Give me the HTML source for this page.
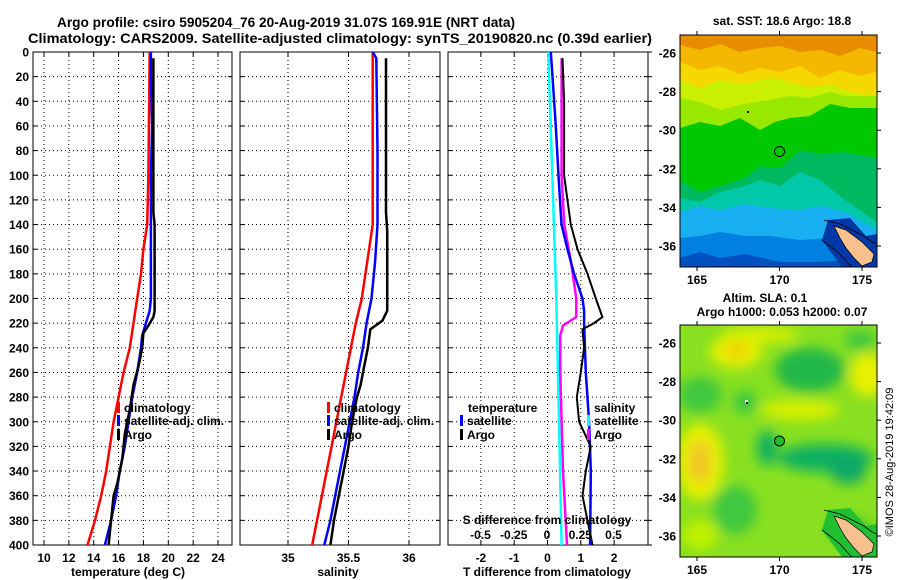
<!DOCTYPE html>
<html><head><meta charset="utf-8">
<style>
html,body{margin:0;padding:0;background:#fff;}
svg{display:block;font-family:"Liberation Sans",Arial,sans-serif;font-weight:bold;}
</style></head>
<body>
<svg id="chart" width="900" height="580" viewBox="0 0 900 580" xmlns="http://www.w3.org/2000/svg">
<defs>
<filter id="blur4" x="-50%" y="-50%" width="200%" height="200%"><feGaussianBlur stdDeviation="6"/></filter>
<clipPath id="clipMap1"><rect x="680" y="35" width="197" height="232"/></clipPath>
<clipPath id="clipMap2"><rect x="680" y="325" width="197" height="232"/></clipPath>
</defs>
<text x="57" y="27" font-size="14" textLength="458" lengthAdjust="spacingAndGlyphs">Argo profile: csiro 5905204_76 20-Aug-2019 31.07S 169.91E (NRT data)</text>
<text x="28" y="43" font-size="14" textLength="624" lengthAdjust="spacingAndGlyphs">Climatology: CARS2009. Satellite-adjusted climatology: synTS_20190820.nc (0.39d earlier)</text>
<g id="plots"></g>
<g id="maps">
  <g clip-path="url(#clipMap1)">
    <rect x="680" y="35" width="197" height="232" fill="#e88c00"/>
    <polygon fill="#f5b800" points="680,45 700,50 720,44 740,52 760,48 780,46 800,52 820,50 840,56 860,48 877,52 877,267 680,267"/>
    <polygon fill="#f4d800" points="680,62 700,70 720,66 740,74 760,68 780,72 800,66 820,78 840,70 860,76 877,72 877,267 680,267"/>
    <polygon fill="#c8f000" points="680,80 700,88 720,80 745,84 770,78 790,82 810,88 830,84 850,92 877,96 877,267 680,267"/>
    <polygon fill="#98e800" points="680,98 700,102 720,110 745,104 770,100 790,96 810,98 830,92 845,96 877,96 877,267 680,267"/>
    <polygon fill="#00c800" points="680,128 700,122 720,126 740,118 760,130 775,122 790,118 810,116 830,104 850,108 877,108 877,267 680,267"/>
    <polygon fill="#00b860" points="680,180 700,192 720,186 745,178 760,166 780,168 800,150 820,154 845,152 877,158 877,267 680,267"/>
    <polygon fill="#00c8a8" points="680,198 700,202 720,192 745,186 760,180 780,186 800,172 820,180 845,200 877,222 877,267 680,267"/>
    <polygon fill="#18b0f0" points="680,212 700,206 720,210 745,204 770,208 800,210 820,206 845,212 877,230 877,267 680,267"/>
    <polygon fill="#0080e0" points="680,238 700,236 720,232 745,236 770,236 800,240 830,238 877,240 877,267 680,267"/>
    <polygon fill="#0050c0" points="680,258 700,252 720,258 745,254 780,262 820,262 877,258 877,267 680,267"/>
    <polygon fill="#0038a8" points="822,240 828,220 850,218 866,236 877,234 877,267 842,267"/>
    <polygon fill="#f8c08c" stroke="#000" stroke-width="0.7" points="834,226 846,230 854,236 862,242 868,248 874,254 872,262 862,266 854,258 846,248 840,238"/>
    <polyline fill="none" stroke="#000" stroke-width="0.8" points="822,240 830,246 840,254 848,263 852,267"/>
    <polyline fill="none" stroke="#000" stroke-width="0.8" points="824,220 840,224 852,230 864,236 872,242 877,244"/>
    <rect x="747" y="111" width="2" height="2" fill="#000"/>
    <circle cx="779.5" cy="151.5" r="5" fill="none" stroke="#000" stroke-width="1"/>
  </g>
  <rect x="680" y="35" width="197" height="232" fill="none" stroke="#000" stroke-width="1"/>
  <text x="782" y="25" font-size="12" text-anchor="middle">sat. SST: 18.6 Argo: 18.8</text>
  <g clip-path="url(#clipMap2)">
    <rect x="680" y="325" width="197" height="232" fill="#88e020"/>
    <g filter="url(#blur4)">
      <ellipse cx="736" cy="352" rx="26" ry="16" fill="#e8f000"/>
      <ellipse cx="737" cy="350" rx="10" ry="7" fill="#f0c800"/>
      <ellipse cx="700" cy="462" rx="24" ry="38" fill="#e8f000"/>
      <ellipse cx="700" cy="462" rx="12" ry="22" fill="#f0c820"/>
      <ellipse cx="868" cy="375" rx="18" ry="22" fill="#e8f000"/>
      <ellipse cx="800" cy="410" rx="40" ry="10" fill="#d8f000"/>
      <ellipse cx="760" cy="335" rx="40" ry="8" fill="#d8f000"/>
      <ellipse cx="810" cy="370" rx="35" ry="22" fill="#20b848"/>
      <ellipse cx="700" cy="395" rx="22" ry="18" fill="#40c840"/>
      <ellipse cx="745" cy="402" rx="12" ry="12" fill="#40c840"/>
      <ellipse cx="767" cy="448" rx="10" ry="18" fill="#10b060"/>
      <ellipse cx="825" cy="458" rx="48" ry="14" fill="#10b060"/>
      <ellipse cx="848" cy="470" rx="18" ry="14" fill="#10a868"/>
      <ellipse cx="850" cy="530" rx="20" ry="12" fill="#30c030"/>
      <ellipse cx="735" cy="510" rx="22" ry="24" fill="#40c840"/>
      <ellipse cx="700" cy="535" rx="18" ry="15" fill="#c0f000"/>
      <ellipse cx="860" cy="340" rx="16" ry="10" fill="#40c840"/>
    </g>
    <polygon fill="#20c030" points="822,530 828,510 850,508 866,526 877,524 877,557 842,557"/>
    <polygon fill="#f8c08c" stroke="#000" stroke-width="0.7" points="834,516 846,520 854,526 862,532 868,538 874,544 872,552 862,556 854,548 846,538 840,528"/>
    <polyline fill="none" stroke="#000" stroke-width="0.8" points="822,530 830,536 840,544 848,553 852,557"/>
    <polyline fill="none" stroke="#000" stroke-width="0.8" points="824,510 840,514 852,520 864,526 872,532 877,534"/>
    <rect x="745" y="400" width="3" height="3" fill="#fff"/>
    <rect x="746" y="402" width="2" height="2" fill="#000"/>
    <circle cx="779.5" cy="441" r="5" fill="#20c020" stroke="#000" stroke-width="1"/>
  </g>
  <rect x="680" y="325" width="197" height="232" fill="none" stroke="#000" stroke-width="1"/>
  <text x="765" y="302" font-size="12" text-anchor="middle">Altim. SLA: 0.1</text>
  <text x="782" y="316" font-size="12" text-anchor="middle">Argo h1000: 0.053 h2000: 0.07</text>
  <text transform="translate(893,462) rotate(-90)" font-size="11" font-weight="normal" text-anchor="middle">©IMOS 28-Aug-2019 19:42:09</text>
</g>
<g id="mapaxes"></g>
</svg>
<script>
const depthTicks = [0,20,40,60,80,100,120,140,160,180,200,220,240,260,280,300,320,340,360,380,400];
const tempTicks = [10,12,14,16,18,20,22,24];
const salTicks = [35,35.5,36];
const tdiffTicks = [-2,-1,0,1,2];
const sdiffTicks = [-0.5,-0.25,0,0.25,0.5];

const tClimDepth = [0,100,140,160,180,200,220,240,260,280,300,320,340,360,380,400];
const tClimVal   = [18.5,18.4,18.3,18.0,17.8,17.5,17.2,16.9,16.4,16.0,15.6,15.3,15.0,14.6,14.1,13.5];
const tSatDepth  = [0,20,60,100,180,200,210,220,230,240,260,280,300,320,340,360,380,400];
const tSatVal    = [18.6,18.6,18.7,18.6,18.6,18.6,18.5,18.2,17.9,17.8,17.5,17.1,16.8,16.5,16.1,15.8,15.4,14.9];
const tArgoDepth = [5,130,140,210,215,222,228,240,255,270,290,300,310,330,350,360,380,400];
const tArgoVal   = [18.8,18.8,18.9,18.9,18.8,18.4,18.0,17.9,17.6,17.2,16.9,16.7,16.5,16.3,15.9,15.6,15.4,15.2];

const sClimDepth = [0,140,160,180,200,220,240,260,280,300,320,340,360,380,400];
const sClimVal   = [35.7,35.7,35.67,35.64,35.61,35.56,35.52,35.48,35.44,35.4,35.36,35.32,35.28,35.24,35.2];
const sSatDepth  = [0,5,80,140,170,200,220,240,260,280,300,320,340,360,380,400];
const sSatVal    = [35.7,35.73,35.74,35.74,35.72,35.69,35.65,35.62,35.58,35.55,35.51,35.47,35.43,35.39,35.35,35.3];
const sArgoDepth = [5,130,145,210,218,225,240,255,270,280,300,320,340,360,380,400];
const sArgoVal   = [35.81,35.81,35.82,35.82,35.78,35.68,35.66,35.63,35.6,35.57,35.53,35.5,35.46,35.42,35.38,35.35];

const dtSatDepth  = [0,20,60,100,140,160,180,200,210,220,260,300,340,400];
const dtSatVal    = [0.1,0.15,0.25,0.33,0.42,0.6,0.8,1.05,1.1,1.1,1.15,1.25,1.3,1.28];
const dtArgoDepth = [5,40,100,140,160,180,200,215,220,225,240,260,280,300,320,340,360,380,400];
const dtArgoVal   = [0.45,0.5,0.5,0.7,0.9,1.2,1.45,1.65,1.4,1.05,1.1,1.0,0.88,0.95,1.3,1.15,1.05,1.2,1.35];
const dsSatDepth  = [0,100,200,300,400];
const dsSatVal    = [0.01,0.04,0.07,0.09,0.11];
const dsArgoDepth = [5,100,140,170,200,215,222,230,260,300,340,400];
const dsArgoVal   = [0.11,0.11,0.13,0.18,0.22,0.22,0.12,0.1,0.1,0.11,0.12,0.15];

const NS='http://www.w3.org/2000/svg';
const plots=document.getElementById('plots');
const TOP=52, BOT=545;
const yD = d => TOP + d*(BOT-TOP)/400;
const xT = v => 44 + (v-10)*12.43;
const xS = v => 288 + (v-35)*121;
const xDT = v => 547.5 + v*33.3;
const xDS = v => 547 + v*133;

function el(tag, attrs, parent){ const e=document.createElementNS(NS,tag); for(const k in attrs) e.setAttribute(k,attrs[k]); (parent||plots).appendChild(e); return e; }
function panel(name){
  const g=el('g',{});
  
  
  return g;
}
function grid(g,x0,x1,xs){
  depthTicks.forEach(d=>{
    if(d>0&&d<400) el('line',{x1:x0,x2:x1,y1:yD(d),y2:yD(d),stroke:'#000','stroke-width':1,'stroke-dasharray':'1,3'},g);
    el('line',{x1:x0,x2:x0+4,y1:yD(d),y2:yD(d),stroke:'#000'},g);
    el('line',{x1:x1-4,x2:x1,y1:yD(d),y2:yD(d),stroke:'#000'},g);
  });
  xs.forEach(x=>{
    el('line',{x1:x,x2:x,y1:TOP,y2:BOT,stroke:'#000','stroke-width':1,'stroke-dasharray':'1,3'},g);
    el('line',{x1:x,x2:x,y1:TOP,y2:TOP+4,stroke:'#000'},g);
    el('line',{x1:x,x2:x,y1:BOT-4,y2:BOT,stroke:'#000'},g);
  });
  el('rect',{x:x0,y:TOP,width:x1-x0,height:BOT-TOP,fill:'none',stroke:'#000','stroke-width':1},g);
}
function series(g,depths,vals,xf,color,name,w){
  const pts=depths.map((d,i)=>xf(vals[i]).toFixed(1)+','+yD(d).toFixed(1)).join(' ');
  const p=el('polyline',{points:pts,fill:'none',stroke:color,'stroke-width':w||2.5},g);
  
  
}
function txt(g,x,y,s,opts){
  const t=el('text',Object.assign({x:x,y:y,'font-size':12},opts||{}),g);
  t.textContent=s; return t;
}

const g1=panel('temperature-panel');
grid(g1,33,232,tempTicks.map(xT));
series(g1,tClimDepth,tClimVal,xT,'#f00','temperature-climatology-line');
series(g1,tSatDepth,tSatVal,xT,'#00f','temperature-satellite-line');
series(g1,tArgoDepth,tArgoVal,xT,'#000','temperature-argo-line');
depthTicks.forEach(d=>{ const t=txt(g1,29,yD(d)+4.5,String(d),{'text-anchor':'end'});   });
tempTicks.forEach(v=>{ const t=txt(g1,xT(v),562,String(v),{'text-anchor':'middle'});   });
{const t=txt(g1,128,576,'temperature (deg C)',{'text-anchor':'middle'});  }

const g2=panel('salinity-panel');
grid(g2,240,440,salTicks.map(xS));
series(g2,sClimDepth,sClimVal,xS,'#f00','salinity-climatology-line');
series(g2,sSatDepth,sSatVal,xS,'#00f','salinity-satellite-line');
series(g2,sArgoDepth,sArgoVal,xS,'#000','salinity-argo-line');
salTicks.forEach(v=>{ const t=txt(g2,xS(v),562,String(v),{'text-anchor':'middle'});   });
{const t=txt(g2,338,576,'salinity',{'text-anchor':'middle'});  }

const g3=panel('difference-panel');
grid(g3,448,648,tdiffTicks.map(xDT));
depthTicks.forEach(d=>el('line',{x1:648,x2:652,y1:yD(d),y2:yD(d),stroke:'#000'},g3));
series(g3,dsSatDepth,dsSatVal,xDS,'#0ff','salinity-diff-satellite-line');
series(g3,dsArgoDepth,dsArgoVal,xDS,'#f0f','salinity-diff-argo-line');
series(g3,dtSatDepth,dtSatVal,xDT,'#00f','temperature-diff-satellite-line');
series(g3,dtArgoDepth,dtArgoVal,xDT,'#000','temperature-diff-argo-line',2);
tdiffTicks.forEach(v=>{ const t=txt(g3,xDT(v),562,String(v),{'text-anchor':'middle'});   });
sdiffTicks.forEach(v=>{ const t=txt(g3,xDS(v),539,String(v),{'text-anchor':'middle'});   });
{const t=txt(g3,547,524,'S difference from climatology',{'text-anchor':'middle'});  }
{const t=txt(g3,547,576,'T difference from climatology',{'text-anchor':'middle'});  }

function legendEntry(g,x,y,color,label,name){
  el('rect',{x:x,y:y-10,width:3,height:11,fill:color},g);
  const t=txt(g,x+7,y,label);
  
  
}
legendEntry(g1,117,412,'#f00','climatology','legend-temp-climatology');
legendEntry(g1,117,425,'#00f','satellite-adj. clim.','legend-temp-satellite');
legendEntry(g1,117,439,'#000','Argo','legend-temp-argo');
legendEntry(g2,327,412,'#f00','climatology','legend-sal-climatology');
legendEntry(g2,327,425,'#00f','satellite-adj. clim.','legend-sal-satellite');
legendEntry(g2,327,439,'#000','Argo','legend-sal-argo');
{const t=txt(g3,468,412,'temperature');  }
legendEntry(g3,460,425,'#00f','satellite','legend-tdiff-satellite');
legendEntry(g3,460,439,'#000','Argo','legend-tdiff-argo');
{const t=txt(g3,594,412,'salinity');  }
legendEntry(g3,587,425,'#0ff','satellite','legend-sdiff-satellite');
legendEntry(g3,587,439,'#f0f','Argo','legend-sdiff-argo');

const lonTicks=[165,170,175];
const latTicks=[-26,-28,-30,-32,-34,-36];
const ma=document.getElementById('mapaxes');
const xLon = v => 680.5 + (v-164)*16.5;
[[35,53],[325,343]].forEach(([top,lat26])=>{
  const bot=top+232;
  lonTicks.forEach(v=>{
    el('line',{x1:xLon(v),x2:xLon(v),y1:top-4,y2:top,stroke:'#000'},ma);
    el('line',{x1:xLon(v),x2:xLon(v),y1:bot,y2:bot+4,stroke:'#000'},ma);
    const t=txt(ma,xLon(v),bot+17,String(v),{'text-anchor':'middle'});
    
    
  });
  latTicks.forEach(v=>{
    const y=lat26+(-26-v)*19.3;
    el('line',{x1:877,x2:881,y1:y,y2:y,stroke:'#000'},ma);
    const t=txt(ma,676,y+4.5,String(v),{'text-anchor':'end'});
    
    
  });
});
</script>
</body></html>
